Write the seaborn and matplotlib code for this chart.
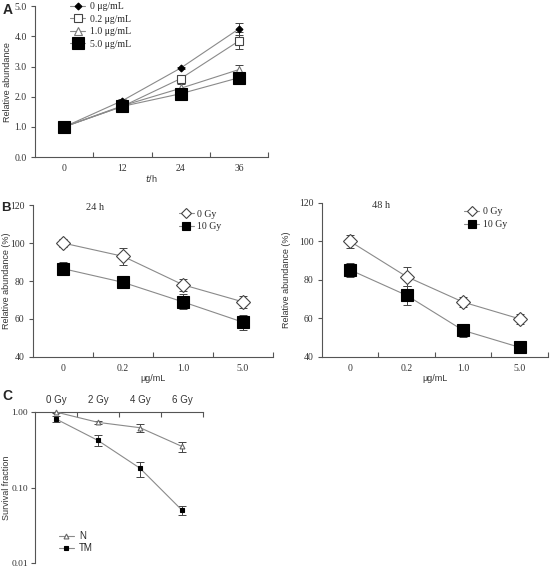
import numpy as np
import pandas as pd
import matplotlib
matplotlib.use("Agg")
import matplotlib.pyplot as plt
import seaborn as sns
from matplotlib.ticker import FixedLocator, NullFormatter, FixedFormatter

# ---- panel A: relative abundance over time ----
times = ["0", "12", "24", "36"]
a_names = ["0 μg/mL", "0.2 μg/mL", "1.0 μg/mL", "5.0 μg/mL"]
a_vals = [
    [1.0, 1.87, 2.95, 4.25],
    [1.0, 1.68, 2.60, 3.85],
    [1.0, 1.70, 2.28, 2.90],
    [1.0, 1.68, 2.10, 2.63],
]
a_errs = [
    [0.03, 0.04, 0.04, 0.20],
    [0.03, 0.05, 0.12, 0.28],
    [0.03, 0.05, 0.15, 0.16],
    [0.03, 0.05, 0.06, 0.10],
]

# ---- panel B: dose response at 24 h / 48 h ----
doses = ["0", "0.2", "1.0", "5.0"]
b_names = ["0 Gy", "10 Gy"]
b24_vals = [[100, 93, 78, 69], [86.5, 79.3, 69, 58.3]]
b24_errs = [[2, 4.5, 3, 3], [3.5, 2.5, 4, 4]]
b48_vals = [[100, 81.7, 68.5, 59.8], [85.2, 72, 53.8, 45]]
b48_errs = [[3.5, 5, 2.5, 2.5], [3.5, 5, 3.5, 3]]

# ---- panel C: survival fraction ----
gy = ["0 Gy", "2 Gy", "4 Gy", "6 Gy"]
c_names = ["N", "TM"]
c_vals = [[1.0, 0.73, 0.62, 0.35], [0.81, 0.42, 0.18, 0.05]]
c_errs = [[0.03, 0.04, 0.07, 0.05], [0.08, 0.07, 0.04, 0.007]]

sns.set_theme(style="ticks")
plt.rcParams["font.family"] = ["Liberation Serif", "DejaVu Sans"]
plt.rcParams["axes.edgecolor"] = "#555555"
plt.rcParams["axes.linewidth"] = 0.8
plt.rcParams["xtick.color"] = "#555555"
plt.rcParams["ytick.color"] = "#555555"
plt.rcParams["xtick.labelcolor"] = "#333333"
plt.rcParams["ytick.labelcolor"] = "#333333"

LINE = "#8a8a8a"
SANS = "Liberation Sans"
LAB = dict(family=SANS, fontsize=6.5, color="#333333")

fig = plt.figure(figsize=(5.51, 5.67), dpi=100)


def category_axis(ax, labels):
    n = len(labels)
    ax.set_xlim(-0.5, n - 0.5)
    ax.xaxis.set_major_locator(FixedLocator(range(n)))
    ax.xaxis.set_major_formatter(FixedFormatter(labels))
    ax.xaxis.set_minor_locator(FixedLocator([i + 0.5 for i in range(n)]))
    ax.tick_params(axis="x", which="major", length=0, labelsize=7, pad=5)
    ax.tick_params(axis="x", which="minor", length=3.5, width=0.8, direction="in")
    ax.tick_params(axis="y", which="major", length=3, width=0.8, labelsize=7, pad=3)


def draw_series(ax, labels, vals, errs, styles, xcats):
    for name, v, e, st in zip(labels, vals, errs, styles):
        df = pd.DataFrame({"x": np.arange(len(xcats)), "y": v})
        ax.errorbar(df["x"], df["y"], yerr=e, fmt="none", ecolor="#444444",
                    elinewidth=0.7, capsize=2.8, capthick=0.7, zorder=2)
        sns.lineplot(data=df, x="x", y="y", ax=ax, color=LINE, lw=0.8,
                     marker=st["marker"], markersize=st["ms"],
                     markerfacecolor=st["fc"], markeredgecolor=st["ec"],
                     markeredgewidth=st.get("mew", 0.8), label=name,
                     zorder=3, clip_on=False)


# ---------------- A ----------------
axA = fig.add_axes([0.0635, 0.723, 0.423, 0.266])
a_styles = [
    dict(marker="D", ms=3.5, fc="black", ec="black"),
    dict(marker="s", ms=6, fc="white", ec="#444444"),
    dict(marker="^", ms=5.5, fc="white", ec="#777777"),
    dict(marker="s", ms=8, fc="black", ec="black"),
]
draw_series(axA, a_names, a_vals, a_errs, a_styles, times)
category_axis(axA, times)
axA.set_ylim(0, 5)
axA.set_yticks(np.arange(0, 5.01, 1.0))
axA.set_yticklabels([f"{t:.1f}" for t in np.arange(0, 5.01, 1.0)])
axA.set_ylabel("Relative abundance", **LAB)
axA.yaxis.set_label_coords(-0.10, 0.5)
axA.set_xlabel("$t$/h", **LAB)
axA.xaxis.labelpad = 0
sns.despine(ax=axA)
axA.legend(loc="upper left", bbox_to_anchor=(0.12, 1.07), frameon=False,
           fontsize=7, handlelength=1.6, handletextpad=0.5, labelspacing=0.35,
           borderpad=0.2)
fig.text(0.004, 0.975, "A", fontsize=10, fontweight="bold", family=SANS)

# ---------------- B ----------------
b_styles = [
    dict(marker="D", ms=7.5, fc="white", ec="#444444"),
    dict(marker="s", ms=8, fc="black", ec="black"),
]
b_specs = [
    ([0.0599, 0.3704, 0.4356, 0.268], b24_vals, b24_errs, "24 h", -0.09, 0.58),
    ([0.5844, 0.3704, 0.410, 0.2716], b48_vals, b48_errs, "48 h", -0.137, 0.60),
]
for pos, vals, errs, ttl, lx, legx in b_specs:
    ax = fig.add_axes(pos)
    draw_series(ax, b_names, vals, errs, b_styles, doses)
    category_axis(ax, doses)
    ax.set_ylim(40, 120)
    ax.set_yticks([40, 60, 80, 100, 120])
    ax.set_ylabel("Relative abundance (%)", **LAB)
    ax.yaxis.set_label_coords(lx, 0.5)
    ax.set_xlabel("μg/mL", **LAB)
    ax.xaxis.labelpad = 1
    ax.text(0.26, 1.015, ttl, transform=ax.transAxes, fontsize=7.5,
            ha="center", va="top", color="#333333")
    sns.despine(ax=ax)
    ax.legend(loc="upper left", bbox_to_anchor=(legx, 1.015), frameon=False,
              fontsize=7, handlelength=1.5, handletextpad=0.4,
              labelspacing=0.4, borderpad=0.2, markerscale=0.7)
fig.text(0.002, 0.627, "B", fontsize=9.5, fontweight="bold", family=SANS)

# ---------------- C ----------------
axC = fig.add_axes([0.0635, 0.007, 0.305, 0.2663])
c_styles = [
    dict(marker="^", ms=3.5, fc="white", ec="#666666"),
    dict(marker="s", ms=3.5, fc="black", ec="black"),
]
draw_series(axC, c_names, c_vals, c_errs, c_styles, gy)
axC.set_yscale("log")
axC.set_ylim(0.01, 1.0)
axC.yaxis.set_major_locator(FixedLocator([0.01, 0.1, 1.0]))
axC.yaxis.set_major_formatter(FixedFormatter(["0.01", "0.10", "1.00"]))
axC.yaxis.set_minor_formatter(NullFormatter())
axC.yaxis.set_minor_locator(FixedLocator([]))
category_axis(axC, gy)
axC.tick_params(axis="y", labelsize=6.8, pad=2)
axC.xaxis.tick_top()
axC.tick_params(axis="x", which="minor", direction="in", top=True, bottom=False)
for lbl in axC.get_xticklabels():
    lbl.set_family(SANS)
axC.set_ylabel("Survival fraction", **LAB)
axC.yaxis.set_label_coords(-0.14, 0.5)
axC.spines["right"].set_visible(False)
axC.spines["bottom"].set_visible(False)
axC.set_xlabel("")
axC.legend(loc="lower left", bbox_to_anchor=(0.1, 0.02), frameon=False,
           prop={"family": SANS, "size": 7}, handlelength=1.6,
           handletextpad=0.5, labelspacing=0.2, borderpad=0.2)
fig.text(0.004, 0.295, "C", fontsize=10, fontweight="bold", family=SANS)

fig.savefig("out.png", dpi=100)
